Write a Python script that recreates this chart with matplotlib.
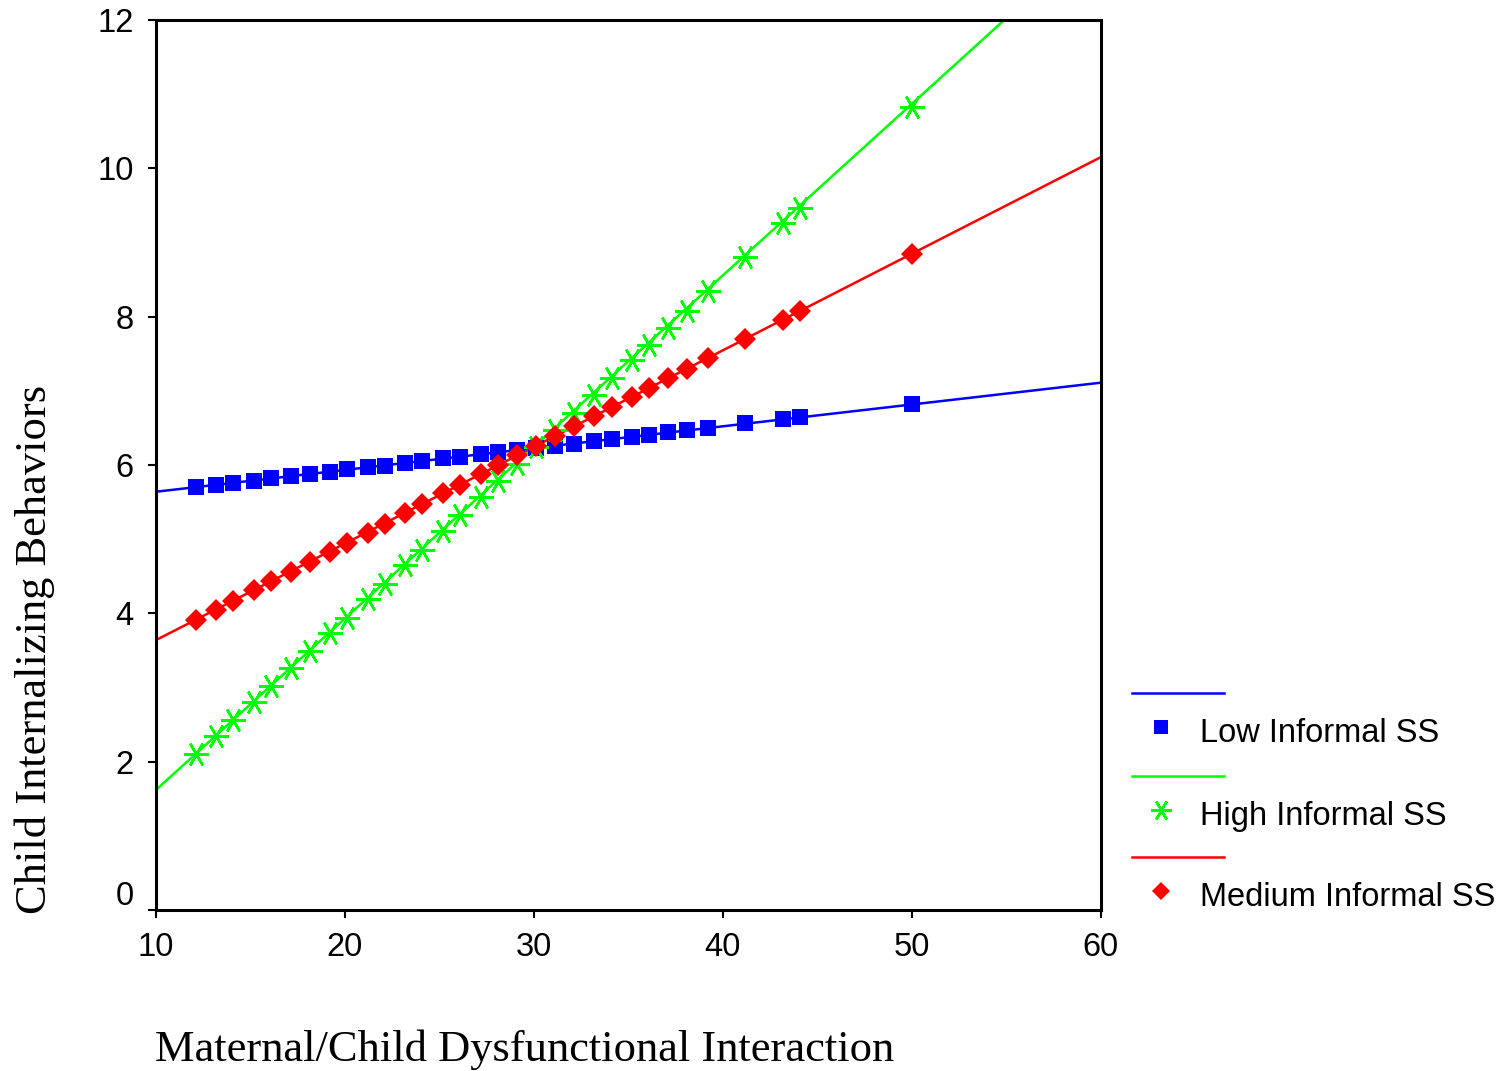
import matplotlib
matplotlib.use('Agg')

import matplotlib.pyplot as plt
import matplotlib.transforms as mtransforms
from matplotlib.lines import Line2D

# Maternal/child dysfunctional interaction scores at which predictions are shown
x_points = [12.1, 13.2, 14.1, 15.2, 16.1, 17.15, 18.15, 19.2, 20.1, 21.2,
            22.1, 23.2, 24.1, 25.2, 26.1, 27.2, 28.1, 29.1, 30.1, 31.1,
            32.1, 33.2, 34.15, 35.2, 36.1, 37.1, 38.1, 39.2, 41.2, 43.2,
            44.1, 50.0]

# Predicted child internalizing behaviors per informal social support group
low_ss = [5.70, 5.73, 5.76, 5.79, 5.82, 5.85, 5.88, 5.91, 5.94, 5.97,
          5.99, 6.03, 6.05, 6.09, 6.11, 6.15, 6.17, 6.20, 6.23, 6.26,
          6.29, 6.32, 6.35, 6.38, 6.41, 6.44, 6.47, 6.50, 6.56, 6.62,
          6.65, 6.82]
high_ss = [2.10, 2.35, 2.56, 2.81, 3.02, 3.26, 3.49, 3.73, 3.94, 4.19,
           4.40, 4.65, 4.86, 5.11, 5.32, 5.57, 5.78, 6.01, 6.24, 6.47,
           6.70, 6.95, 7.17, 7.41, 7.62, 7.85, 8.08, 8.34, 8.80, 9.26,
           9.47, 10.83]
medium_ss = [3.91, 4.05, 4.17, 4.31, 4.43, 4.56, 4.69, 4.83, 4.95, 5.09,
             5.21, 5.35, 5.47, 5.62, 5.73, 5.88, 6.00, 6.13, 6.26, 6.39,
             6.52, 6.66, 6.78, 6.92, 7.04, 7.17, 7.30, 7.44, 7.70, 7.96,
             8.08, 8.85]

# Fitted regression lines, evaluated at the ends of the x range
line_x = [10, 60]
low_line = [5.64, 7.11]
high_line = [1.62, 13.18]
medium_line = [3.64, 10.15]

labels = ['Low Informal SS', 'High Informal SS', 'Medium Informal SS']
colors = ['#0000ff', '#00ff00', '#ff0000']
x_ticks = [10, 20, 30, 40, 50, 60]
y_ticks = [0, 2, 4, 6, 8, 10, 12]

SANS = 'Liberation Sans'
SERIF = 'Liberation Serif'
STAR = (6, 2, 90)

fig = plt.figure(figsize=(15.03, 10.71), dpi=100)
ax = fig.add_axes([0.1038, 0.1503, 0.6285, 0.8310])

series = [
    (low_ss, low_line, 's', 11.5, 0),
    (high_ss, high_line, STAR, 18, 1.8),
    (medium_ss, medium_line, 'D', 11, 0),
]
for (ys, line_y, marker, ms, mew), color in zip(series, colors):
    ax.plot(line_x, line_y, color=color, linewidth=1.8, zorder=2)
    ax.plot(x_points, ys, linestyle='none', marker=marker, markersize=ms,
            color=color, markeredgewidth=mew, zorder=3)

ax.set_xlim(10, 60)
ax.set_ylim(0, 12)
ax.set_xticks(x_ticks)
ax.set_yticks(y_ticks)
ax.tick_params(direction='out', length=6, width=1.5, pad=10,
               labelsize=23.5, colors='black')
for lab in ax.get_xticklabels() + ax.get_yticklabels():
    lab.set_fontfamily(SANS)
for sp in ax.spines.values():
    sp.set_linewidth(2.2)

# lift the "0" label off the corner
ylabs = ax.get_yticklabels()
ylabs[0].set_transform(ylabs[0].get_transform() +
                       mtransforms.ScaledTranslation(0, 12 / 72, fig.dpi_scale_trans))

fig.text(525 / 1503, 1 - 1050 / 1071, 'Maternal/Child Dysfunctional Interaction',
         ha='center', va='center', fontsize=32, family=SERIF)
fig.text(35 / 1503, 1 - 649 / 1071, 'Child Internalizing Behaviors',
         ha='center', va='center', rotation=90, fontsize=32, family=SERIF)


def legend_entry(row_y, color, marker, ms, mew, label):
    # line sample on its own row, marker + text underneath
    y_line = 1 - row_y / 1071
    y_mark = 1 - (row_y + 34) / 1071
    y_text = 1 - (row_y + 40) / 1071
    fig.add_artist(Line2D([1132 / 1503, 1224 / 1503], [y_line, y_line],
                          color=color, linewidth=1.8, transform=fig.transFigure))
    fig.add_artist(Line2D([1161 / 1503], [y_mark], linestyle='none', marker=marker,
                          markersize=ms, markeredgewidth=mew, color=color,
                          transform=fig.transFigure))
    fig.text(1200 / 1503, y_text, label, ha='left', va='center',
             fontsize=23.5, family=SANS)


legend_entry(693, colors[0], 's', 9.5, 0, labels[0])
legend_entry(776, colors[1], STAR, 15, 1.8, labels[1])
legend_entry(857, colors[2], 'D', 9, 0, labels[2])

fig.savefig('out.png', dpi=100)
